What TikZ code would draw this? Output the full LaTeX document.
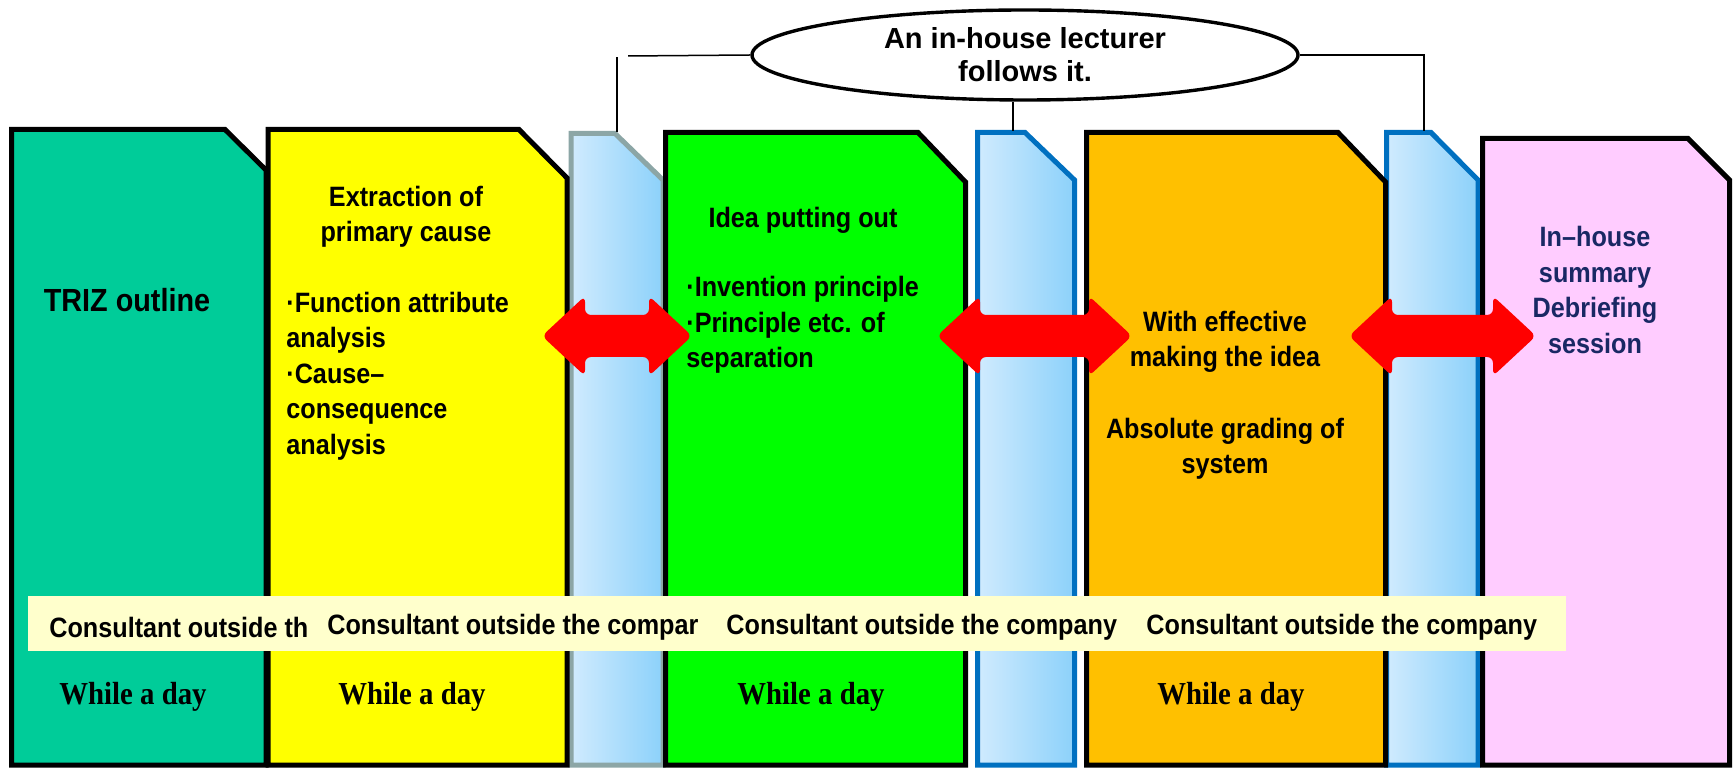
\documentclass[tikz,border=0pt]{standalone}
\usepackage{fontspec}
\setmainfont{Liberation Sans}
\newfontfamily\gothic{Liberation Sans}[FakeStretch=0.9]
\newfontfamily\condserif{Liberation Serif}[FakeStretch=0.9]
\usetikzlibrary{shapes.geometric}
\definecolor{cTeal}{RGB}{0,204,153}
\definecolor{cYellow}{RGB}{255,255,0}
\definecolor{cGreen}{RGB}{0,255,0}
\definecolor{cOrange}{RGB}{255,192,0}
\definecolor{cPink}{RGB}{255,204,255}
\definecolor{cCream}{RGB}{255,255,204}
\definecolor{stripL}{RGB}{208,235,254}
\definecolor{stripR}{RGB}{140,209,250}
\definecolor{stripGrey}{RGB}{140,166,166}
\definecolor{stripBlue}{RGB}{0,112,192}
\definecolor{arrowRed}{RGB}{255,0,0}
\definecolor{navy}{RGB}{25,40,100}
\tikzstyle{panel}=[draw=black,line width=2.5pt,line join=miter]
\tikzstyle{strip}=[panel,left color=stripL,right color=stripR]
\tikzstyle{txt}=[inner sep=0pt,font=\gothic\bfseries\fontsize{14}{17.7}\selectfont]
\tikzstyle{day}=[inner sep=0pt,font=\condserif\bfseries\fontsize{16}{18}\selectfont]
\tikzstyle{link}=[line width=0.75pt]
\tikzstyle{bigarrow}=[fill=arrowRed,rounded corners=3pt]
% style, left, right, top, chamfer x, chamfer y
\newcommand{\newPanel}[6]{\draw[#1] (#2,765) -- (#2,#4) -- (#5,#4) -- (#3,#6) -- (#3,765) -- cycle;}
\newcommand{\newArrow}[2]{\fill[bigarrow] (#1,336) -- (#1+43,296) -- (#1+43,315) -- (#2-43,315) -- (#2-43,296) -- (#2,336)
  -- (#2-43,376) -- (#2-43,357) -- (#1+43,357) -- (#1+43,376) -- cycle;}

\begin{document}
\begin{tikzpicture}[x=0.5pt,y=-0.5pt]
        \fill[white] (0,0) rectangle (1733,769);
        \useasboundingbox (0,0) rectangle (1733,769);
        % in-house strips
        \newPanel{strip,draw=stripGrey}{571}{663}{133.5}{615}{180}
        \newPanel{strip,draw=stripBlue}{977.5}{1074.5}{132.5}{1025}{180}
        \newPanel{strip,draw=stripBlue}{1386.5}{1478}{132.5}{1431}{180}
        % day panels
        \newPanel{panel,fill=cTeal}{11.5}{266}{129.5}{225}{170}
        \newPanel{panel,fill=cYellow}{268}{567}{129.5}{519}{178}
        \newPanel{panel,fill=cGreen}{665.5}{965.5}{132.5}{918}{182}
        \newPanel{panel,fill=cOrange}{1086.5}{1385.5}{132.5}{1338}{182}
        \newPanel{panel,fill=cPink}{1482.5}{1729.5}{138.5}{1688}{180}
        \newArrow{542}{692}
        \newArrow{937}{1132}
        \newArrow{1349}{1536}
        \fill[cCream] (28,596) rectangle (1566,651);

        \node[txt] (triz) at (127,300) {\fontsize{16}{19}\selectfont TRIZ outline};
        \node[txt,align=center] (cause) at (406,217) {Extraction of\\primary cause};
        \node[txt,align=left,anchor=west] (causeList) at (286,376) {·Function attribute\\analysis\\·Cause–\\consequence\\analysis};
        \node[txt] (idea) at (803,220) {Idea putting out};
        \node[txt,align=left,anchor=west] (ideaList) at (686,325) {·Invention principle\\·Principle etc. of\\separation};
        \node[txt,align=center] (effect) at (1225,342) {With effective\\making the idea};
        \node[txt,align=center] (grade) at (1225,449) {Absolute grading of\\system};
        \node[txt,align=center,text=navy] (summary) at (1595,290) {In–house\\summary\\Debriefing\\session};

        \node[txt,anchor=west] (cons1) at (49,627) {Consultant outside th};
        \node[txt,anchor=west] (cons2) at (327,627) {Consultant outside the compar};
        \node[txt,anchor=west] (cons3) at (726,627) {Consultant outside the company};
        \node[txt,anchor=west] (cons4) at (1146,627) {Consultant outside the company};
        \node[day] (day1) at (133,697) {While a day};
        \node[day] (day2) at (412,697) {While a day};
        \node[day] (day3) at (811,697) {While a day};
        \node[day] (day4) at (1231,697) {While a day};

        \node[draw,fill=white,ellipse,line width=1.7pt,minimum width=273pt,minimum height=45pt,inner sep=0pt,
            align=center,font=\bfseries\fontsize{14.5}{16.5}\selectfont] (lecturer) at (1025,55) {An in-house lecturer\\follows it.};
        \coordinate (s1top) at (617,132);
        \coordinate (s2top) at (1013,131);
        \coordinate (s3top) at (1424,131);
        \coordinate (elbowL) at (628,56);
        \draw[link] (lecturer.west) -- (elbowL);
        \draw[link] (s1top) -- ++(0,-75);
        \draw[link] (s2top) -- (s2top |- lecturer.south);
        \draw[link] (lecturer.east) -| (s3top);
\end{tikzpicture}
\end{document}
